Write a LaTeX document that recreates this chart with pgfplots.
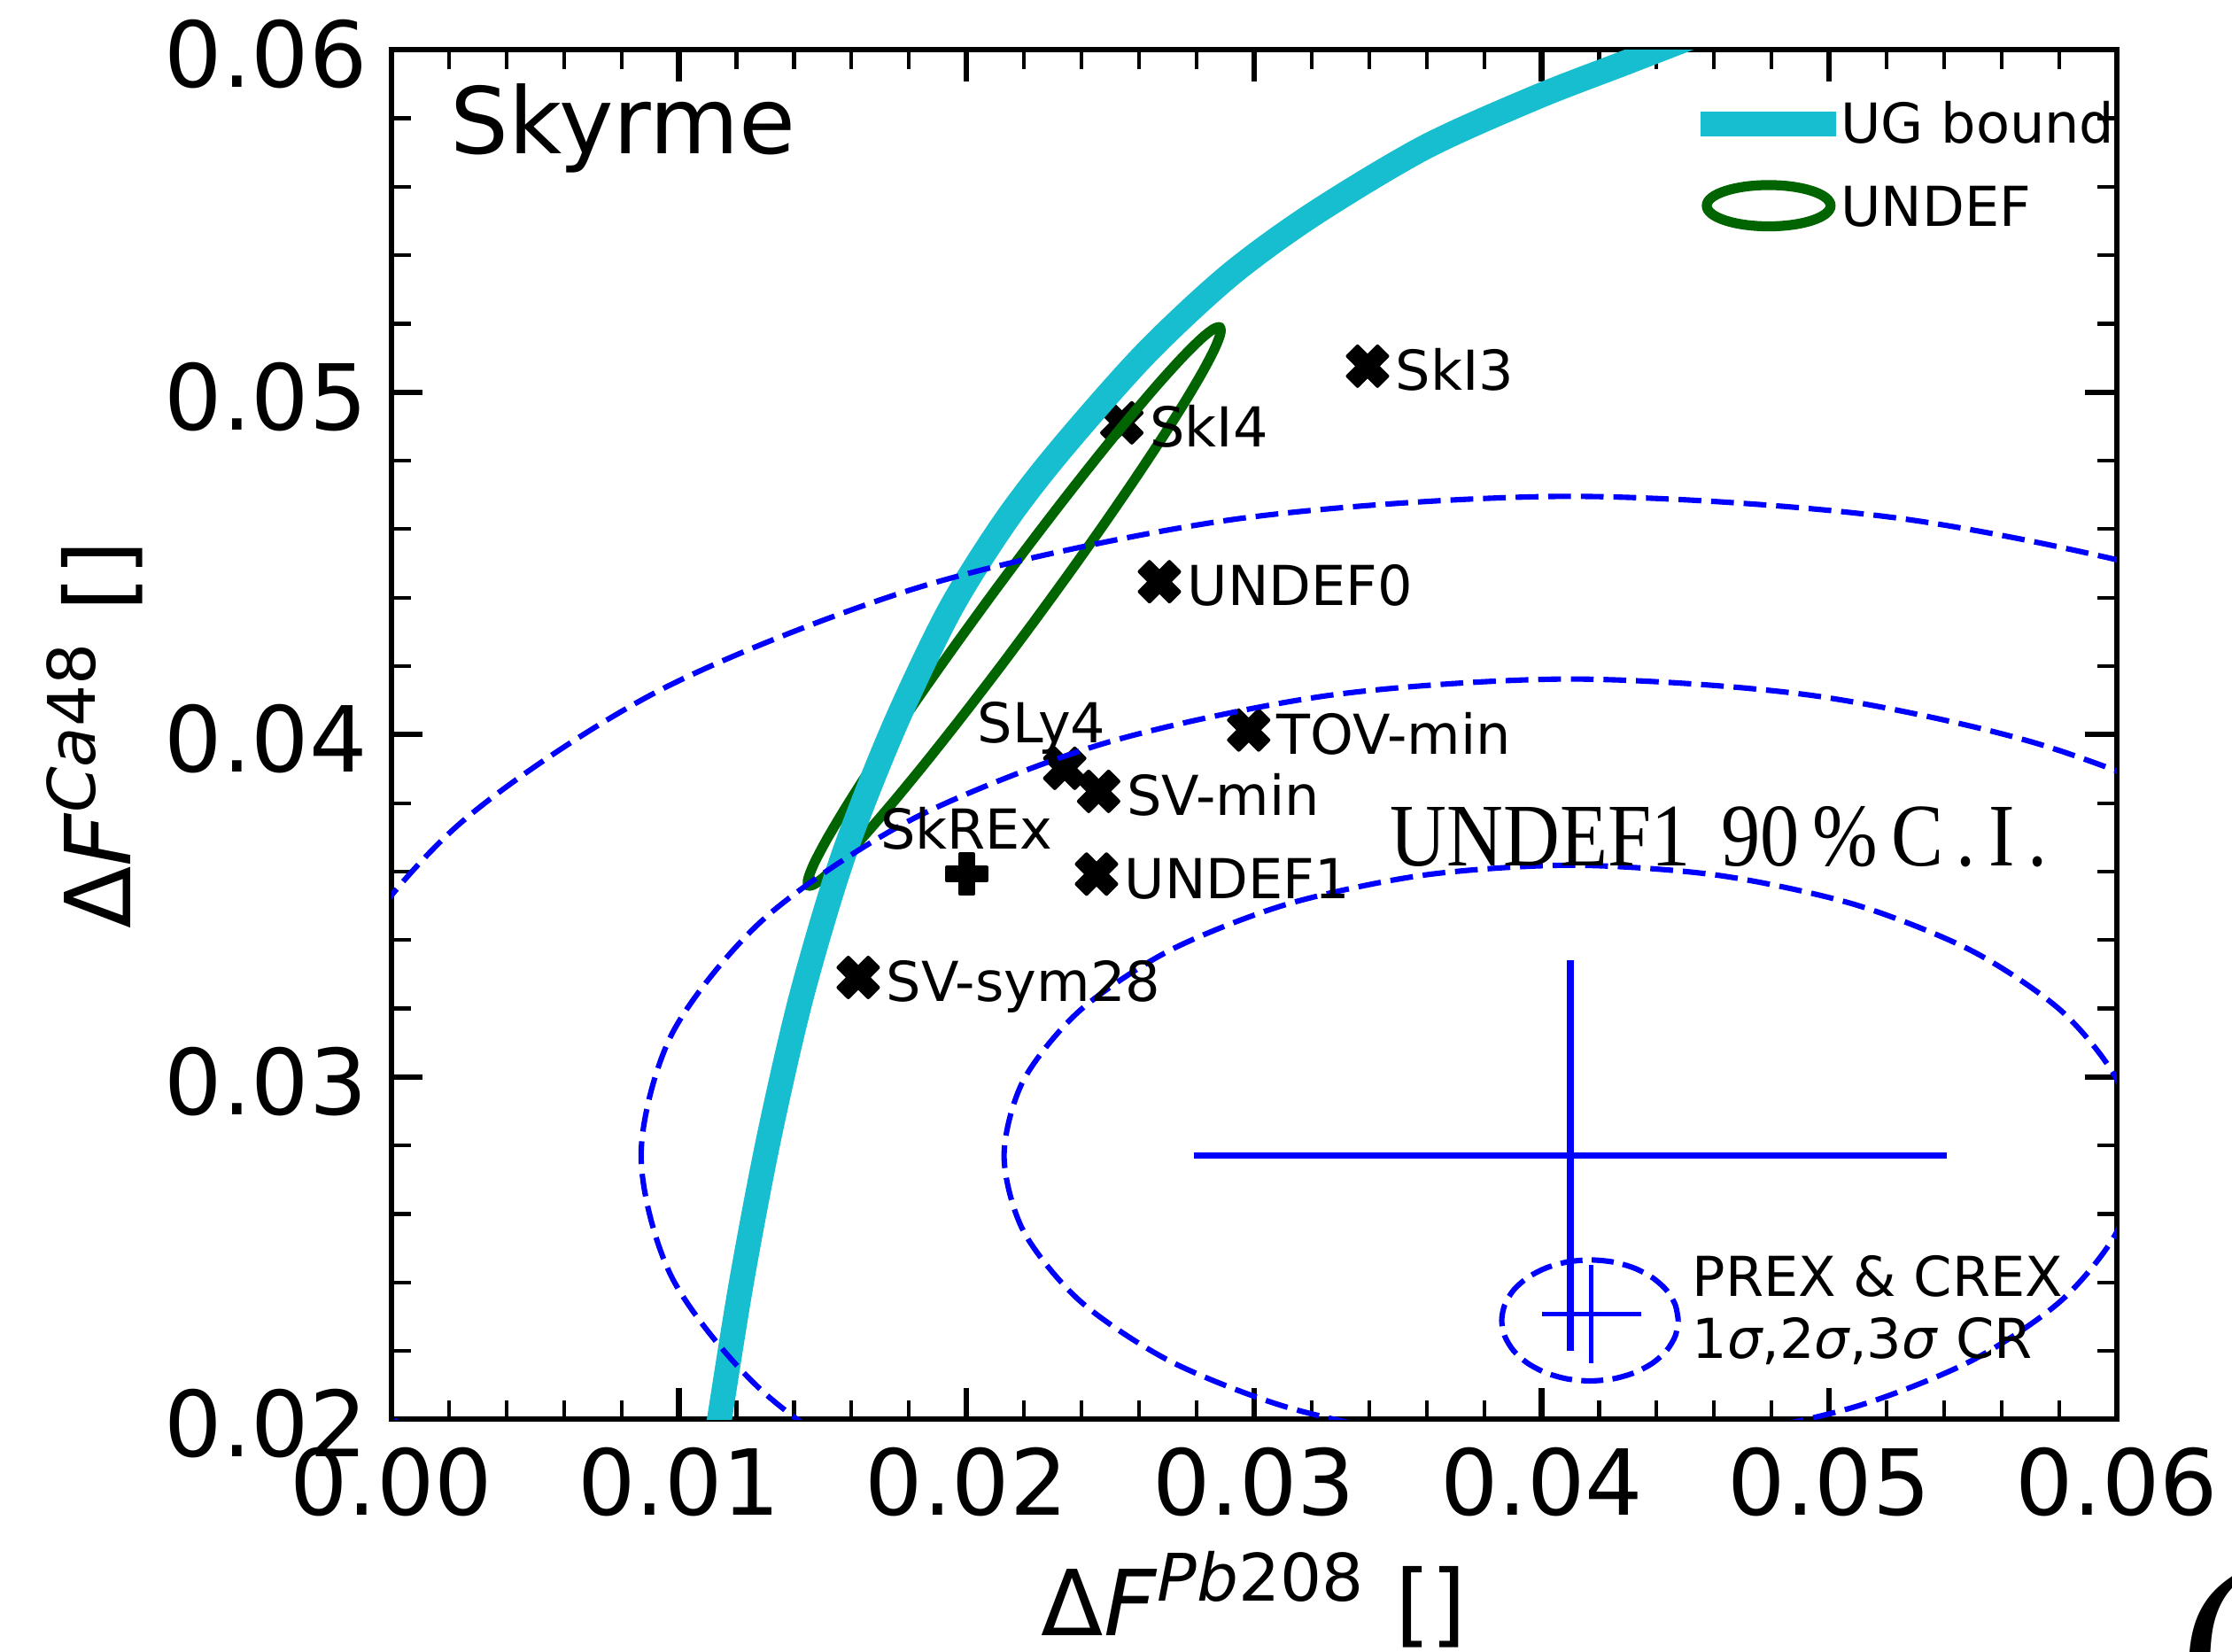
\documentclass[border=0pt]{standalone}
\usepackage{fontspec}
\setmainfont{DejaVu Sans}
\newfontfamily\seriffont{Liberation Serif}
\usepackage{graphicx}
\usepackage{pgfplots}
\pgfplotsset{compat=1.18}
\definecolor{ugc}{HTML}{17BECF}
\definecolor{undefc}{HTML}{006400}
\definecolor{crb}{HTML}{0000FF}
\newcommand{\bigfont}{\fontsize{18.2}{21}\selectfont}
\newcommand{\annfont}{\fontsize{11}{13}\selectfont}
\pgfdeclareplotmark{Xfill}{%
  \pgfpathmoveto{\pgfqpoint{0.5\pgfplotmarksize}{-1\pgfplotmarksize}}%
  \pgfpathlineto{\pgfqpoint{0pt}{-0.5\pgfplotmarksize}}%
  \pgfpathlineto{\pgfqpoint{-0.5\pgfplotmarksize}{-1\pgfplotmarksize}}%
  \pgfpathlineto{\pgfqpoint{-1\pgfplotmarksize}{-0.5\pgfplotmarksize}}%
  \pgfpathlineto{\pgfqpoint{-0.5\pgfplotmarksize}{0pt}}%
  \pgfpathlineto{\pgfqpoint{-1\pgfplotmarksize}{0.5\pgfplotmarksize}}%
  \pgfpathlineto{\pgfqpoint{-0.5\pgfplotmarksize}{1\pgfplotmarksize}}%
  \pgfpathlineto{\pgfqpoint{0pt}{0.5\pgfplotmarksize}}%
  \pgfpathlineto{\pgfqpoint{0.5\pgfplotmarksize}{1\pgfplotmarksize}}%
  \pgfpathlineto{\pgfqpoint{1\pgfplotmarksize}{0.5\pgfplotmarksize}}%
  \pgfpathlineto{\pgfqpoint{0.5\pgfplotmarksize}{0pt}}%
  \pgfpathlineto{\pgfqpoint{1\pgfplotmarksize}{-0.5\pgfplotmarksize}}%
  \pgfpathclose
  \pgfusepathqfillstroke
}
\pgfdeclareplotmark{Pfill}{%
  \pgfpathmoveto{\pgfqpoint{-0.3333\pgfplotmarksize}{-1\pgfplotmarksize}}%
  \pgfpathlineto{\pgfqpoint{-0.3333\pgfplotmarksize}{-0.3333\pgfplotmarksize}}%
  \pgfpathlineto{\pgfqpoint{-1\pgfplotmarksize}{-0.3333\pgfplotmarksize}}%
  \pgfpathlineto{\pgfqpoint{-1\pgfplotmarksize}{0.3333\pgfplotmarksize}}%
  \pgfpathlineto{\pgfqpoint{-0.3333\pgfplotmarksize}{0.3333\pgfplotmarksize}}%
  \pgfpathlineto{\pgfqpoint{-0.3333\pgfplotmarksize}{1\pgfplotmarksize}}%
  \pgfpathlineto{\pgfqpoint{0.3333\pgfplotmarksize}{1\pgfplotmarksize}}%
  \pgfpathlineto{\pgfqpoint{0.3333\pgfplotmarksize}{0.3333\pgfplotmarksize}}%
  \pgfpathlineto{\pgfqpoint{1\pgfplotmarksize}{0.3333\pgfplotmarksize}}%
  \pgfpathlineto{\pgfqpoint{1\pgfplotmarksize}{-0.3333\pgfplotmarksize}}%
  \pgfpathlineto{\pgfqpoint{0.3333\pgfplotmarksize}{-0.3333\pgfplotmarksize}}%
  \pgfpathlineto{\pgfqpoint{0.3333\pgfplotmarksize}{-1\pgfplotmarksize}}%
  \pgfpathclose
  \pgfusepathqfillstroke
}
\begin{document}
\begin{tikzpicture}
\begin{axis}[
  at={(0,0)}, anchor=south west,
  scale only axis, width=121.2mm, height=96.2mm,
  xmin=0, xmax=0.06, ymin=0.02, ymax=0.06,
  clip mode=individual,
  axis line style={line width=0.38mm, black},
  tick align=inside, tick pos=both,
  xtick={0,0.01,0.02,0.03,0.04,0.05,0.06},
  xticklabels={0.00,0.01,0.02,0.03,0.04,0.05,0.06},
  ytick={0.02,0.03,0.04,0.05,0.06},
  yticklabels={0.02,0.03,0.04,0.05,0.06},
  minor x tick num=4, minor y tick num=4,
  major tick length=2.2mm, minor tick length=1.35mm,
  major tick style={line width=0.39mm, black},
  minor tick style={line width=0.26mm, black},
  scaled ticks=false,
  tick label style={font=\bigfont, inner sep=0pt, outer sep=0pt},
  x tick label style={anchor=base, yshift=-6.7mm},
  y tick label style={anchor=east, xshift=-1.7mm, yshift=-0.3mm},
  xlabel={Δ\textit{F}\raisebox{0.38em}{\fontsize{13.1}{15}\selectfont\textit{Pb}208}\hspace{0.354em}[]},
  ylabel={Δ\textit{F}\raisebox{0.38em}{\fontsize{13.1}{15}\selectfont\textit{Ca}48}\hspace{0.354em}[]},
  x label style={at={(axis description cs:0.5,-0.158)}, anchor=base, inner sep=0pt, font=\bigfont},
  y label style={at={(axis description cs:-0.1514,0.5)}, anchor=base, inner sep=0pt, font=\bigfont},
]
% model markers
\addplot[only marks, mark=Xfill, mark size=1.4mm, mark options={fill=black, draw=black, line width=0.25mm, line join=round}]
coordinates {(0.033946,0.050761) (0.025401,0.049106) (0.026708,0.044466) (0.029812,0.040133)
 (0.023416,0.039015) (0.024594,0.038341) (0.02452,0.035925) (0.016233,0.032906)};
\addplot[only marks, mark=Pfill, mark size=1.4mm, mark options={fill=black, draw=black, line width=0.25mm, line join=round}]
coordinates {(0.020005,0.035925)};
% UNDEF ellipse
\addplot[undefc, line width=0.7mm, smooth] coordinates {
(0.022355,0.043310) (0.021103,0.041902) (0.019866,0.040549) (0.018685,0.039293)
(0.017594,0.038173) (0.016627,0.037221) (0.015812,0.036468) (0.015175,0.035936)
(0.014735,0.035641) (0.014505,0.035593) (0.014493,0.035791) (0.014697,0.036232)
(0.015114,0.036900) (0.015731,0.037777) (0.016526,0.038835) (0.017477,0.040041)
(0.018556,0.041361) (0.019729,0.042752) (0.020961,0.044174) (0.022213,0.045582)
(0.023450,0.046935) (0.024631,0.048191) (0.025722,0.049311) (0.026689,0.050263)
(0.027504,0.051016) (0.028141,0.051548) (0.028581,0.051843) (0.028811,0.051891)
(0.028823,0.051693) (0.028619,0.051252) (0.028202,0.050584) (0.027585,0.049707)
(0.026790,0.048649) (0.025839,0.047443) (0.024760,0.046123) (0.023587,0.044732)
(0.022355,0.043310)};
% UG bound
\addplot[ugc, line width=1.75mm, smooth] coordinates {
(0.011317,0.019459) (0.011406,0.02) (0.012178,0.024033) (0.013119,0.028191)
(0.014257,0.032349) (0.015678,0.036370) (0.017441,0.040150) (0.019386,0.043588)
(0.021327,0.046200) (0.023272,0.048320) (0.026198,0.051102) (0.029109,0.053389)
(0.032020,0.055177) (0.035916,0.057143) (0.039812,0.058615) (0.042946,0.059634)
(0.045990,0.060624)};
% PREX & CREX confidence regions
\addplot[crb, line width=0.38mm, dash pattern=on 1.6mm off 0.69mm, smooth] coordinates {
(0.060695,0.0277) (0.060024,0.029896) (0.058056,0.031942) (0.054926,0.033699)
(0.050848,0.035047) (0.046097,0.035895) (0.041,0.036184) (0.035903,0.035895)
(0.031152,0.035047) (0.027074,0.033699) (0.023944,0.031942) (0.021976,0.029896)
(0.021305,0.0277) (0.021976,0.025504) (0.023944,0.023458) (0.027074,0.021701)
(0.031152,0.020353) (0.035903,0.019505) (0.041,0.019216) (0.046097,0.019505)
(0.050848,0.020353) (0.054926,0.021701) (0.058056,0.023458) (0.060024,0.025504)
(0.060695,0.0277)};
\addplot[crb, line width=0.38mm, dash pattern=on 1.6mm off 0.69mm, smooth] coordinates {
(0.073318,0.0277) (0.072217,0.031303) (0.068988,0.034661) (0.063852,0.037544)
(0.057159,0.039757) (0.049365,0.041148) (0.041,0.041622) (0.032635,0.041148)
(0.024841,0.039757) (0.018148,0.037544) (0.013012,0.034661) (0.009783,0.031303)
(0.008682,0.0277) (0.009783,0.024097) (0.013012,0.020739) (0.018148,0.017856)
(0.024841,0.015643) (0.032635,0.014252) (0.041,0.013778) (0.049365,0.014252)
(0.057159,0.015643) (0.063852,0.017856) (0.068988,0.020739) (0.072217,0.024097)
(0.073318,0.0277)};
\addplot[crb, line width=0.38mm, dash pattern=on 1.6mm off 0.69mm, smooth] coordinates {
(0.085707,0.0277) (0.084184,0.032684) (0.079717,0.037329) (0.072613,0.041318)
(0.063354,0.044378) (0.052571,0.046302) (0.041,0.046958) (0.029429,0.046302)
(0.018646,0.044378) (0.009387,0.041318) (0.002283,0.037329) (-0.002184,0.032684)
(-0.003707,0.0277) (-0.002184,0.022716) (0.002283,0.018071) (0.009387,0.014082)
(0.018646,0.011022) (0.029429,0.009098) (0.041,0.008442) (0.052571,0.009098)
(0.063354,0.011022) (0.072613,0.014082) (0.079717,0.018071) (0.084184,0.022716)
(0.085707,0.0277)};
% small legend-like ellipse
\addplot[crb, line width=0.38mm, dash pattern=on 1.55mm off 0.65mm, smooth] coordinates {
(0.044753,0.022889) (0.044648,0.023346) (0.044342,0.023773) (0.043854,0.024138)
(0.043218,0.024419) (0.042478,0.024596) (0.041683,0.024656) (0.040888,0.024596)
(0.040148,0.024419) (0.039512,0.024138) (0.039024,0.023773) (0.038718,0.023346)
(0.038613,0.022889) (0.038718,0.022432) (0.039024,0.022005) (0.039512,0.021640)
(0.040148,0.021359) (0.040888,0.021182) (0.041683,0.021122) (0.042478,0.021182)
(0.043218,0.021359) (0.043854,0.021640) (0.044342,0.022005) (0.044648,0.022432)
(0.044753,0.022889)};
% error bars (no central marker)
\addplot[crb, mark=none, error bars/.cd, x dir=both, x explicit, y dir=both, y explicit,
  error mark=none, error bar style={line width=0.47mm, crb, solid}]
  coordinates {(0.041,0.0277) +- (0.0131,0.0057)};
\addplot[crb, mark=none, error bars/.cd, x dir=both, x explicit, y dir=both, y explicit,
  error mark=none, error bar style={line width=0.32mm, crb, solid}]
  coordinates {(0.04173,0.02308) +- (0.00173,0.00144)};
% labels
\node[anchor=base west, inner sep=0pt, font=\fontsize{18.4}{21}\selectfont] at (axis cs:0.002015,0.056965) {Skyrme};
\begin{scope}[every node/.style={anchor=base west, inner sep=0pt, font=\annfont}]
\node[xshift=1.9mm, yshift=-1.7mm] at (axis cs:0.033946,0.050761) {SkI3};
\node[xshift=1.9mm, yshift=-1.7mm] at (axis cs:0.025401,0.049106) {SkI4};
\node[xshift=1.9mm, yshift=-1.7mm] at (axis cs:0.026708,0.044466) {UNDEF0};
\node[xshift=1.9mm, yshift=-1.7mm] at (axis cs:0.029812,0.040133) {TOV-min};
\node[xshift=1.9mm, yshift=-1.7mm] at (axis cs:0.024594,0.038341) {SV-min};
\node[xshift=1.9mm, yshift=-1.7mm] at (axis cs:0.02452,0.035925) {UNDEF1};
\node[xshift=1.9mm, yshift=-1.7mm] at (axis cs:0.016233,0.032906) {SV-sym28};
\node at (axis cs:0.020347,0.039771) {SLy4};
\node at (axis cs:0.01697,0.036661) {SkREx};
\node at (axis cs:0.045203,0.023597) {PREX \& CREX};
\node at (axis cs:0.045203,0.021788) {1\textit{σ},2\textit{σ},3\textit{σ} CR};
\node at (axis cs:0.050371,0.057272) {UG bound};
\node at (axis cs:0.050371,0.054857) {UNDEF};
\end{scope}
\node[anchor=base west, inner sep=0pt] at (axis cs:0.034703,0.036175)
  {\seriffont\fontsize{17}{19}\selectfont\scalebox{0.92}[1.05]{UNDEF1\hspace{0.4em}90\,\%\,C\,.\,I\,.}};
% legend keys
\draw[ugc, line width=1.75mm] (axis cs:0.04554,0.057838) -- (axis cs:0.05025,0.057838);
\draw[undefc, line width=0.7mm] (axis cs:0.047896,0.055447) ellipse [x radius=4.35mm, y radius=1.45mm];
\end{axis}
\node[anchor=base west, inner sep=0pt, font=\seriffont\fontsize{45}{50}\selectfont] at (125.5mm,-21.4mm) {(};
\pgfresetboundingbox
\useasboundingbox (-27.5mm,-16.3mm) rectangle (129.3mm,99.7mm);
\end{tikzpicture}
\end{document}
